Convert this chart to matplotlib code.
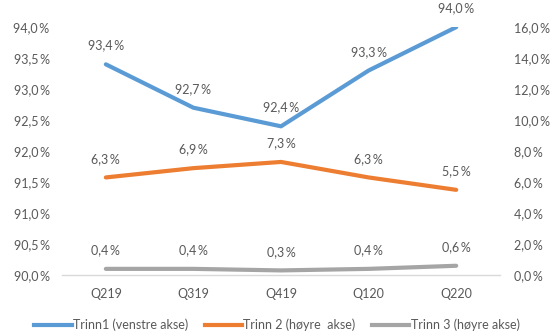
import matplotlib.pyplot as plt
from matplotlib.lines import Line2D

quarters = ["Q219", "Q319", "Q419", "Q120", "Q220"]
trinn1 = [93.4, 92.7, 92.4, 93.3, 94.0]
trinn2 = [6.3, 6.9, 7.3, 6.3, 5.5]
trinn3 = [0.4, 0.4, 0.3, 0.4, 0.6]
left_ticks = [90.0, 90.5, 91.0, 91.5, 92.0, 92.5, 93.0, 93.5, 94.0]
right_ticks = [0, 2, 4, 6, 8, 10, 12, 14, 16]
legend_labels = ["Trinn1 (venstre akse)", "Trinn 2 (høyre  akse)", "Trinn 3 (høyre akse)"]

BLUE = "#5B9BD5"
ORANGE = "#ED7D31"
GRAY = "#A5A5A5"
TEXT = "#595959"

plt.rcParams["font.family"] = ["Lato", "DejaVu Sans"]
plt.rcParams["font.size"] = 9


def pct(v):
    return ("%.1f\u2009%%" % v).replace(".", ",")


fig = plt.figure(figsize=(5.54, 3.31), dpi=100)
ax = fig.add_axes([0.112, 0.169, 0.7905, 0.749])
ax2 = ax.twinx()

x = list(range(len(quarters)))
ax.plot(x, trinn1, color=BLUE, lw=3, solid_capstyle="round", zorder=3)
ax2.plot(x, trinn2, color=ORANGE, lw=3, solid_capstyle="round")
ax2.plot(x, trinn3, color=GRAY, lw=3, solid_capstyle="round")

for xi, v in zip(x, trinn1):
    ax.annotate(pct(v), (xi, v), xytext=(0, 13.5), textcoords="offset points",
                ha="center", va="center", color=TEXT)
for series in (trinn2, trinn3):
    for xi, v in zip(x, series):
        ax2.annotate(pct(v), (xi, v), xytext=(0, 13.5), textcoords="offset points",
                     ha="center", va="center", color=TEXT)

ax.set_xlim(-0.5, len(quarters) - 0.5)
ax.set_ylim(90, 94)
ax2.set_ylim(0, 16)
ax.set_xticks(x)
ax.set_xticklabels(quarters)
ax.set_yticks(left_ticks)
ax.set_yticklabels([pct(v) for v in left_ticks])
ax2.set_yticks(right_ticks)
ax2.set_yticklabels([pct(v) for v in right_ticks])

for a in (ax, ax2):
    for s in a.spines.values():
        s.set_visible(False)
    a.tick_params(length=0, colors=TEXT)
ax.tick_params(axis="x", pad=9)
ax.tick_params(axis="y", pad=9)
ax2.tick_params(axis="y", pad=10)
ax.spines["bottom"].set_visible(True)
ax.spines["bottom"].set_color("#D9D9D9")
ax.spines["bottom"].set_linewidth(1)

handles = [Line2D([], [], color=c, lw=3) for c in (BLUE, ORANGE, GRAY)]
fig.legend(handles, legend_labels, loc="lower center", bbox_to_anchor=(0.5, -0.035),
           ncol=3, frameon=False, handlelength=3.0, handletextpad=0.1,
           columnspacing=1.3, labelcolor=TEXT)

fig.savefig("out.png", dpi=100)
